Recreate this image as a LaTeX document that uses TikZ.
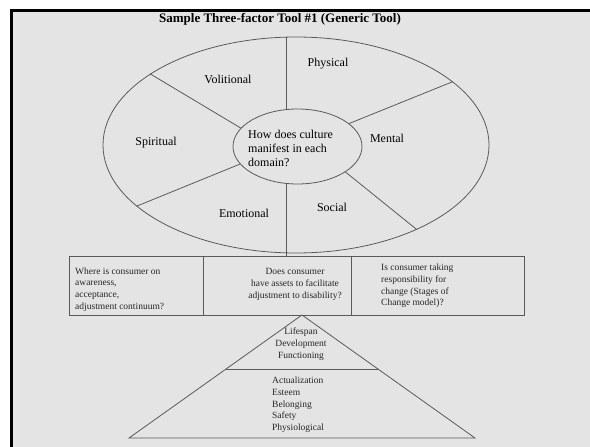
\documentclass[tikz,border=0pt]{standalone}
\usepackage{fontspec}
\setmainfont{Liberation Serif}
\usetikzlibrary{shapes.geometric,calc}
\definecolor{slide}{HTML}{E4E4E4}
\definecolor{ink}{HTML}{5A5A5A}
\begin{document}
\begin{tikzpicture}[x=1pt,y=-1pt]
  \tikzset{
    part/.style={draw=ink,line width=0.8pt},
    ring/.style={ellipse,draw=ink,line width=0.8pt,inner sep=0pt},
    cell/.style={rectangle,draw=ink,fill=slide,line width=0.8pt,inner sep=0pt,minimum height=59pt},
    sector/.style={font=\fontsize{12}{14}\selectfont,inner sep=0pt},
    note/.style={font=\fontsize{9.5}{11.7}\selectfont,inner sep=0pt,align=left,text=black!85}
  }
  \useasboundingbox (0,0) rectangle (590,447);
  \fill[white] (0,0) rectangle (590,447);
  \fill[slide] (11,10) rectangle (590,447);
  \draw[line width=3pt,black] (11,447) -- (11,10) -- (590,10);

  \node (title) at (280,19) {\fontsize{13}{15}\selectfont\bfseries Sample Three-factor Tool \#1 (Generic Tool)};

  \node[ring,minimum width=386pt,minimum height=216pt] (rim) at (296,145) {};
  \node[ring,minimum width=129pt,minimum height=75pt] (core) at (297.5,146.5) {};
  \node[inner sep=0pt,align=left,font=\fontsize{12}{14.2}\selectfont,anchor=north west] (question) at (248,129.5)
    {How does culture\\manifest in each\\domain?};

  \draw[part] (core.106) -- (core.106 |- rim.north);
  \draw[part] (rim.154.5) -- (core.162.5);
  \draw[part] (rim.22.8) -- (core.24.6);
  \draw[part] (rim.201.5) -- (core.197.3);
  \draw[part] (rim.325.6) -- (core.332);

  \node[sector] (physical) at (328,64) {Physical};
  \node[sector] (volitional) at (228,79) {Volitional};
  \node[sector] (spiritual) at (156,143) {Spiritual};
  \node[sector] (mental) at (387,138) {Mental};
  \node[sector] (emotional) at (244,213) {Emotional};
  \node[sector] (social) at (332,207) {Social};

  \node[cell,minimum width=134pt] (aware) at (136,285.5) {};
  \node[cell,minimum width=148pt] (assets) at (277,285.5) {};
  \node[cell,minimum width=173pt] (change) at (437.5,285.5) {};
  \draw[part] (core.254) -- (core.254 |- assets.north);

  \node[note,anchor=north west] at (75,267.5)
    {Where is consumer on\\awareness,\\acceptance,\\adjustment continuum?};
  \node[note,align=center,anchor=north] at (295,268.5)
    {Does consumer\\have assets to facilitate\\adjustment to disability?};
  \node[note,anchor=north west] at (381,264)
    {Is consumer taking\\responsibility for\\change (Stages of\\Change model)?};

  \coordinate (apex) at (302,315);
  \coordinate (bl) at (129,438);
  \coordinate (br) at (475,438);
  \draw[part] (apex) -- (bl) -- (br) -- cycle;
  \draw[part] ($(apex)!0.44!(bl)$) -- ($(apex)!0.44!(br)$);

  \node[note,align=center,anchor=north] at (301,328)
    {Lifespan\\Development\\Functioning};
  \node[note,anchor=north west] at (272,377)
    {Actualization\\Esteem\\Belonging\\Safety\\Physiological};
\end{tikzpicture}
\end{document}
